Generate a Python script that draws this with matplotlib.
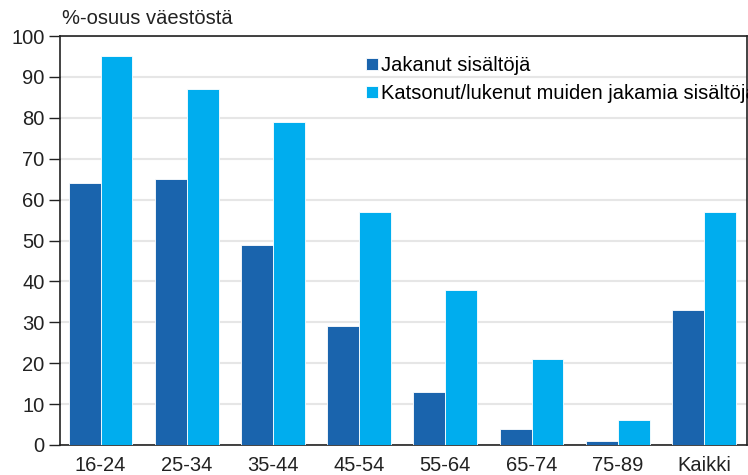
import matplotlib
matplotlib.use("Agg")
import matplotlib.pyplot as plt
import numpy as np

plt.rcParams['font.family'] = ['Liberation Sans', 'DejaVu Sans']

categories = ["16-24", "25-34", "35-44", "45-54", "55-64", "65-74", "75-89", "Kaikki"]
shared = [64, 65, 49, 29, 13, 4, 1, 33]
viewed = [95, 87, 79, 57, 38, 21, 6, 57]
series_names = ["Jakanut sisältöjä", "Katsonut/lukenut muiden jakamia sisältöjä"]
y_label = "%-osuus väestöstä"

dark = "#1a64ad"
light = "#00adee"
fs = 14.5

fig = plt.figure(figsize=(7.48, 4.75), dpi=100)
ax = fig.add_axes([60 / 748, 30 / 475, 687 / 748, 409 / 475])

x = np.arange(len(categories))
w = 0.37
ax.bar(x - w / 2, shared, width=w, color=dark, edgecolor="white", linewidth=0.6,
       label=series_names[0], zorder=3)
ax.bar(x + w / 2, viewed, width=w, color=light, edgecolor="white", linewidth=0.6,
       label=series_names[1], zorder=3)

ax.set_xlim(-0.47, 7.5)
ax.set_ylim(0, 100)
ax.set_yticks(range(0, 101, 10))
ax.set_xticks(x)
ax.set_xticklabels(categories)
ax.yaxis.grid(True, color="#e6e6e6", linewidth=1.5, zorder=0)
ax.set_axisbelow(True)

for s in ax.spines.values():
    s.set_color("#222222")
    s.set_linewidth(1.2)

ax.tick_params(axis="y", length=8, width=1, labelsize=fs, colors="#222222", pad=3)
ax.tick_params(axis="x", length=0, labelsize=fs, colors="#222222", pad=8)

ax.text(0.003, 1.02, y_label, transform=ax.transAxes, fontsize=fs,
        color="#222222", ha="left", va="bottom")

ax.legend(loc="upper left", bbox_to_anchor=(0.433, 0.97), frameon=False,
          fontsize=fs, handlelength=0.6, handleheight=0.55, handletextpad=0.15,
          labelspacing=0.45, borderaxespad=0)

fig.savefig("out.png", dpi=100)
